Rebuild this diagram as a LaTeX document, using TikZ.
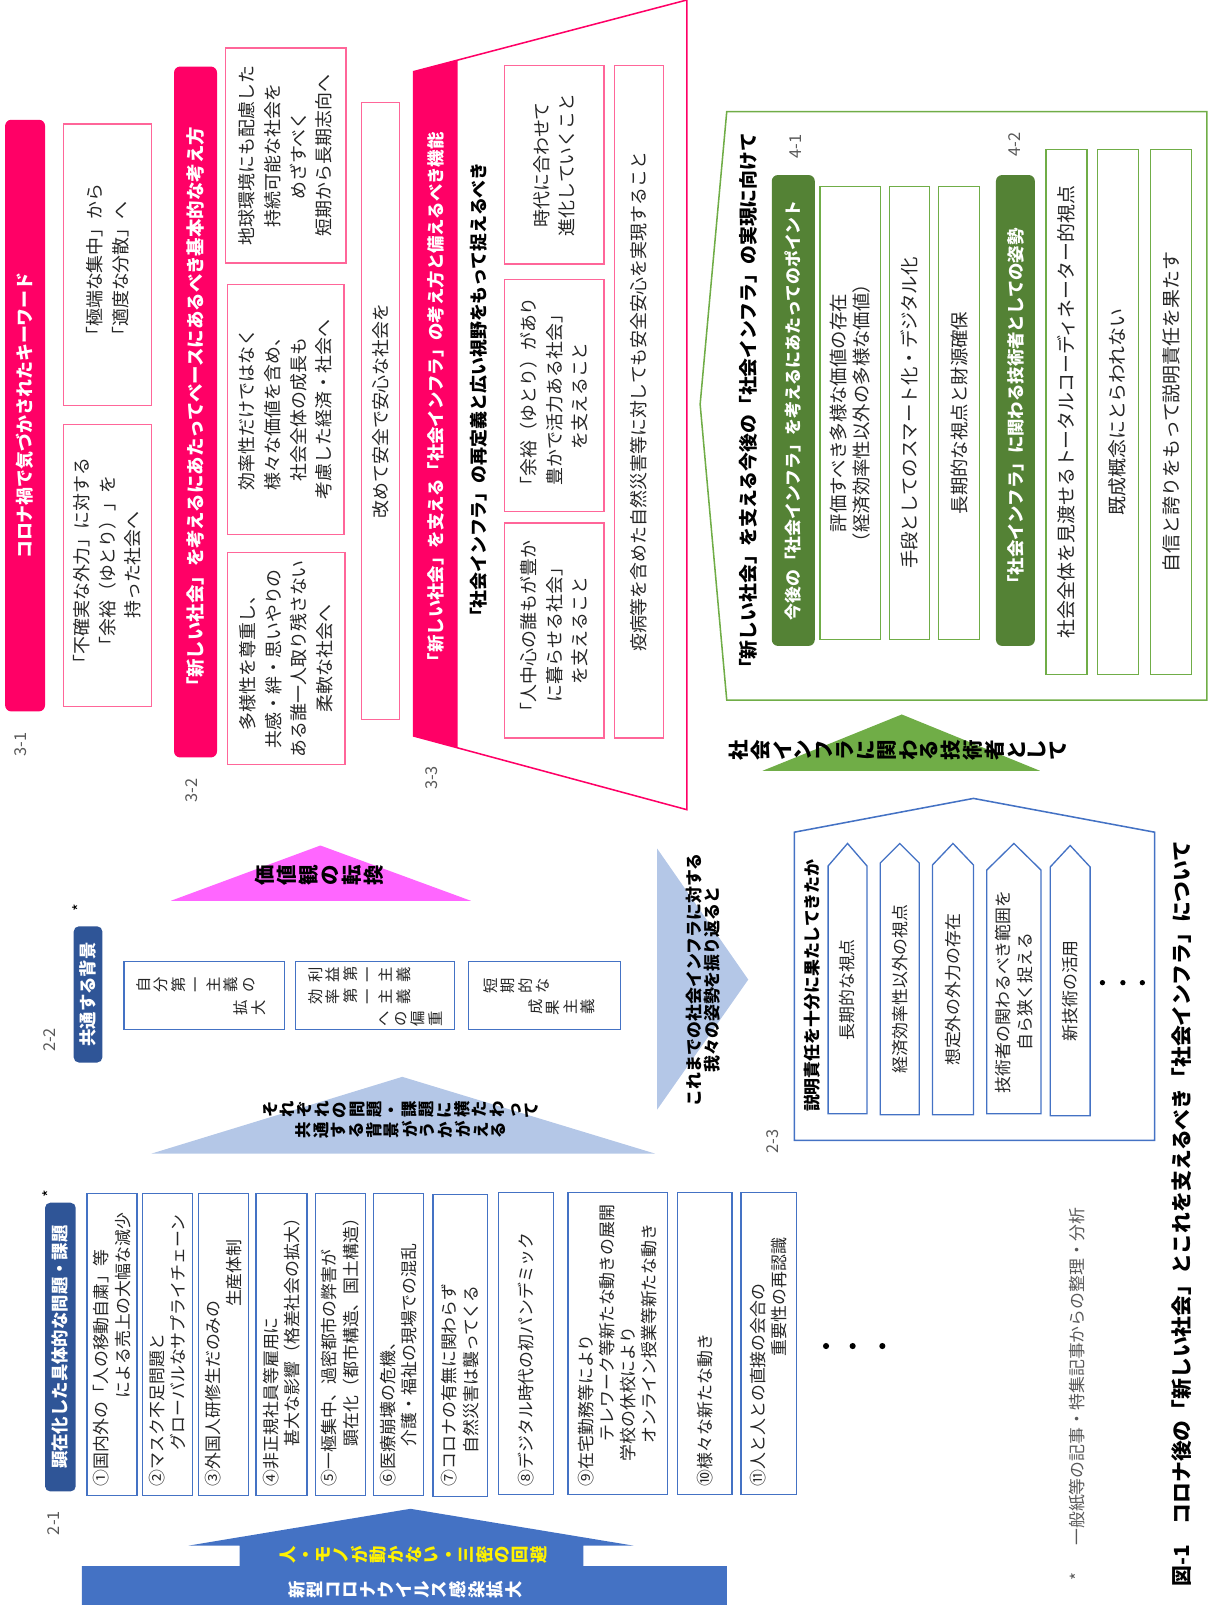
\documentclass[tikz,border=0pt]{standalone}
\usepackage{fontspec}
\usepackage{graphicx}
\setmainfont{Noto Sans CJK JP}
\definecolor{pinkc}{HTML}{FF0066}
\definecolor{pinkl}{HTML}{FF6699}
\definecolor{greenc}{HTML}{548235}
\definecolor{greenl}{HTML}{70AD47}
\definecolor{navy}{HTML}{2F5597}
\definecolor{bluel}{HTML}{4472C4}
\definecolor{lightblue}{HTML}{B4C7E7}
\definecolor{magentac}{HTML}{FF66FF}
\definecolor{txtc}{HTML}{262626}
\definecolor{lblc}{HTML}{595959}
\makeatletter
\def\tate@stop{\tate@stop}
\newcommand\tatetext[2][0pt]{\def\tate@k{#1}\tate@loop#2\tate@stop}
\def\tate@loop#1{\ifx\tate@stop#1\else\tate@one{#1}\expandafter\tate@loop\fi}
\def\tate@one#1{\rotatebox[origin=c]{90}{\makebox[1em]{\rule[-0.2em]{0pt}{1em}#1}}\kern\tate@k}
\makeatother
\tikzset{
  pinkbox/.style={draw=pinkl, line width=1.3pt},
  greenbox/.style={draw=greenl, line width=1.3pt},
  bluebox/.style={draw=bluel, line width=1.3pt},
  rt/.style={rotate=90, inner sep=0pt, align=center, text=txtc, font=\fontsize{17.5}{25}\selectfont},
  rtb/.style={rotate=90, inner sep=0pt, align=center, text=white, font=\bfseries\fontsize{17.5}{20}\selectfont},
  rth/.style={rotate=90, inner sep=0pt, align=center, text=black, font=\bfseries\fontsize{17.5}{20}\selectfont},
  it/.style={rotate=90, inner sep=0pt, align=left, anchor=west, text=txtc, font=\fontsize{16.5}{21}\selectfont},
  lbl/.style={rotate=90, inner sep=0pt, text=lblc, font=\fontsize{16}{18}\selectfont},
  tt/.style={inner sep=0pt, align=center, text=black},
  pillar/.style={rotate=90, inner sep=0pt, align=center, text=txtc, font=\fontsize{16.5}{21}\selectfont}
}
\begin{document}
\begin{tikzpicture}[x=1pt,y=-1pt]
\useasboundingbox (0,0) rectangle (1183,1568);

% ===== 3-1 =====
\fill[pinkc, rounded corners=6pt] (5,117) rectangle (44,695);
\node[rtb] (h31) at (24.5,406) {コロナ禍で気づかされたキーワード};
\draw[pinkbox] (62,121) rectangle (148,396);
\node[rt, align=left] (k1) at (105,258) {「極端な集中」から\\「適度な分散」へ};
\draw[pinkbox] (62,415) rectangle (148,690);
\node[rt] (k2) at (105,552) {「不確実な外力」に対する\\「余裕（ゆとり）」を\\持った社会へ};
\node[lbl] (l31) at (20,727) {3-1};

% ===== 3-2 =====
\fill[pinkc, rounded corners=6pt] (170,65) rectangle (212,740);
\node[rtb, font=\bfseries\fontsize{18}{20}\selectfont] (h32) at (191,402) {「新しい社会」を考えるにあたってベースにあるべき基本的な考え方};
\draw[pinkbox] (220,47) rectangle (338,257);
\node[rt] (b321) at (279,152) {地球環境にも配慮した\\持続可能な社会を\\めざすべく\\短期から長期志向へ};
\draw[pinkbox] (222,278) rectangle (336,522);
\node[rt] (b322) at (279,400) {効率性だけではなく\\様々な価値を含め、\\社会全体の成長も\\考慮した経済・社会へ};
\draw[pinkbox] (222,540) rectangle (337,747);
\node[rt] (b323) at (279.5,643.5) {多様性を尊重し、\\共感・絆・思いやりの\\ある誰一人取り残さない\\柔軟な社会へ};
\draw[pinkbox] (353,100) rectangle (390,703);
\node[rt] (b324) at (371.5,401.5) {改めて安全で安心な社会を};
\node[lbl] (l32) at (187,772) {3-2};

% ===== 3-3 =====
\draw[pinkc, line width=1.5pt] (404,70) -- (671,0) -- (671,791) -- (404,719) -- cycle;
\fill[pinkc] (404,70) -- (447,58.7) -- (447,730.6) -- (404,719) -- cycle;
\node[rtb, font=\bfseries\fontsize{17}{20}\selectfont] (h33) at (425.5,392) {「新しい社会」を支える「社会インフラ」の考え方と備えるべき機能};
\node[rth] (s33) at (468,385) {「社会インフラ」の再定義と広い視野をもって捉えるべき};
\draw[pinkbox] (493,64) rectangle (590,258);
\node[rt] (c1) at (541.5,161) {時代に合わせて\\進化していくこと};
\draw[pinkbox] (493,273) rectangle (590,500);
\node[rt] (c2) at (541.5,386.5) {「余裕（ゆとり）があり\\豊かで活力ある社会」\\を支えること};
\draw[pinkbox] (493,511) rectangle (590,721);
\node[rt] (c3) at (541.5,616) {「人中心の誰もが豊か\\に暮らせる社会」\\を支えること};
\draw[pinkbox] (600,64) rectangle (648,721);
\node[rt] (c4) at (624,392.5) {疫病等を含めた自然災害等に対しても安全安心を実現すること};
\node[lbl] (l33) at (422,760) {3-3};

% ===== 4 =====
\draw[greenl, line width=1.5pt] (710,109) -- (1179,109) -- (1179,684) -- (710,684) -- (684,395) -- cycle;
\node[rth, font=\bfseries\fontsize{18.4}{20}\selectfont] (t4) at (731,396) {「新しい社会」を支える今後の「社会インフラ」の実現に向けて};
\node[lbl] (l41) at (777,143) {4-1};
\fill[greenc, rounded corners=6pt] (754,171) rectangle (796,631);
\node[rtb, font=\bfseries\fontsize{16.5}{20}\selectfont] (g1) at (775,401) {今後の「社会インフラ」を考えるにあたってのポイント};
\draw[greenbox] (801,182) rectangle (860,625);
\node[rt, font=\fontsize{18}{23}\selectfont] (g11) at (830.5,403.5) {評価すべき多様な価値の存在\\（経済効率性以外の多様な価値）};
\draw[greenbox] (869,182) rectangle (908,625);
\node[rt, font=\fontsize{18}{23}\selectfont] (g12) at (888.5,403.5) {手段としてのスマート化・デジタル化};
\draw[greenbox] (917,182) rectangle (957,625);
\node[rt, font=\fontsize{18}{23}\selectfont] (g13) at (937,403.5) {長期的な視点と財源確保};
\node[lbl] (l42) at (991,141) {4-2};
\fill[greenc, rounded corners=6pt] (973,171) rectangle (1011,631);
\node[rtb, font=\bfseries\fontsize{17}{20}\selectfont] (g2) at (992,401) {「社会インフラ」に関わる技術者としての姿勢};
\draw[greenbox] (1022,146) rectangle (1062,659);
\node[rt, font=\fontsize{18.5}{23}\selectfont] (g21) at (1042,402.5) {社会全体を見渡せるトータルコーディネーター的視点};
\draw[greenbox] (1072,146) rectangle (1112,659);
\node[rt, font=\fontsize{18.5}{23}\selectfont] (g22) at (1092,402.5) {既成概念にとらわれない};
\draw[greenbox] (1124,146) rectangle (1164,659);
\node[rt, font=\fontsize{18.5}{23}\selectfont] (g23) at (1144,402.5) {自信と誇りをもって説明責任を果たす};

% green triangle
\fill[greenl] (881,698) -- (1016,753) -- (745,753) -- cycle;
\node[tt, font=\bfseries\fontsize{20}{22}\selectfont] (gt) at (879,733) {\tatetext[0.4pt]{社会インフラに関わる技術者として}};

% magenta triangle
\fill[magentac] (313,826) -- (460,880) -- (167,880) -- cycle;
\node[tt, font=\bfseries\fontsize{20}{22}\selectfont] (mt) at (313,855) {\tatetext[0.5pt]{価値観の転換}};

% light blue triangle
\fill[lightblue] (393,1052) -- (640,1127) -- (148,1127) -- cycle;
\node[tt, font=\bfseries\fontsize{16}{20}\selectfont] (lt) at (393,1094) {\tatetext[0.8pt]{それぞれの問題・課題に横たわって}\\\tatetext[0.8pt]{共通する背景がうかがえる}};

% right arrow
\fill[lightblue] (642,829) -- (731,957) -- (642,1084) -- cycle;
\node[rth, font=\bfseries\fontsize{16.5}{17.5}\selectfont] (ra) at (686.5,957) {これまでの社会インフラに対する\\我々の姿勢を振り返ると};

% ===== 2-2 =====
\node[lbl] (l22) at (48,1016) {2-2};
\node[lbl, text=black] (ast2) at (77,887) {*};
\fill[navy, rounded corners=5pt] (72,905) rectangle (100,1038);
\node[rtb, font=\bfseries\fontsize{17}{20}\selectfont] (n22) at (86,971.5) {共通する背景};
\draw[bluebox] (121,939) rectangle (278,1006);
\node[tt, align=left, anchor=west, text=txtc, font=\fontsize{15}{23}\selectfont] (bg1) at (133,973.5) {\tatetext[1.7pt]{自分第一主義の}\\\hspace*{95pt}\tatetext[1.7pt]{拡大}};
\draw[bluebox] (289,939) rectangle (444,1006);
\node[tt, align=left, anchor=west, text=txtc, font=\fontsize{15}{21.5}\selectfont] (bg2) at (301,973.5) {\tatetext[1.7pt]{利益第一主義}\\\tatetext[1.7pt]{効率第一主義}\\\hspace*{67pt}\tatetext[1.7pt]{への偏重}};
\draw[bluebox] (458,939) rectangle (606,1006);
\node[tt, align=left, anchor=west, text=txtc, font=\fontsize{15}{21}\selectfont] (bg3) at (472,973.5) {\tatetext[1.7pt]{短期的な}\\\hspace*{44pt}\tatetext[1.7pt]{成果主義}};

% ===== 2-1 =====
\node[lbl] (l21) at (52,1488) {2-1};
\node[lbl, text=black] (ast1) at (48,1166) {*};
\fill[navy, rounded corners=5pt] (44,1175) rectangle (74,1457);
\node[rtb, font=\bfseries\fontsize{17}{20}\selectfont] (n21) at (59,1316) {顕在化した具体的な問題・課題};

\draw[bluebox] (85,1166) rectangle (134,1461);
\node[it] (i1) at (109.5,1452) {①国内外の「人の移動自粛」等\\\hspace*{86pt}による売上の大幅な減少};
\draw[bluebox] (139,1166) rectangle (188,1461);
\node[it] (i2) at (163.5,1452) {②マスク不足問題と\\\hspace*{35pt}グローバルなサプライチェーン};
\draw[bluebox] (194,1166) rectangle (243,1461);
\node[it] (i3) at (218.5,1452) {③外国人研修生だのみの\\\hspace*{175pt}生産体制};
\draw[bluebox] (250,1166) rectangle (300,1461);
\node[it] (i4) at (275,1452) {④非正規社員等雇用に\\\hspace*{39pt}甚大な影響（格差社会の拡大）};
\draw[bluebox] (308,1166) rectangle (357,1461);
\node[it] (i5) at (332.5,1452) {⑤一極集中、過密都市の弊害が\\\hspace*{39pt}顕在化（都市構造、国土構造）};
\draw[bluebox] (365,1166) rectangle (414,1461);
\node[it] (i6) at (389.5,1452) {⑥医療崩壊の危機、\\\hspace*{39pt}介護・福祉の現場での混乱};
\draw[bluebox] (423,1167) rectangle (476,1462);
\node[it] (i7) at (449.5,1452) {⑦コロナの有無に関わらず\\\hspace*{32pt}自然災害は襲ってくる};
\draw[bluebox] (487,1165) rectangle (541,1460);
\node[it] (i8) at (514,1452) {⑧デジタル時代の初パンデミック};
\draw[bluebox] (555,1165) rectangle (652,1460);
\node[it, font=\fontsize{16.5}{20.7}\selectfont] (i9) at (603.5,1452) {⑨在宅勤務等により\\\hspace*{44pt}テレワーク等新たな動きの展開\\\hspace*{24pt}学校の休校により\\\hspace*{42pt}オンライン授業等新たな動き};
\draw[bluebox] (662,1165) rectangle (715,1460);
\node[it] (i10) at (688.5,1452) {⑩様々な新たな動き};
\draw[bluebox] (724,1165) rectangle (778,1460);
\node[it] (i11) at (751,1452) {⑪人と人との直接の会合の\\\hspace*{127pt}重要性の再認識};
\fill (807,1315) circle (3);
\fill (833,1315) circle (3);
\fill (862,1315) circle (3);

% bottom blue arrow
\fill[bluel] (80,1568) -- (80,1530) -- (234,1530) -- (234,1510) -- (184,1510) -- (401,1474) -- (619,1510) -- (570,1510) -- (570,1530) -- (710,1530) -- (710,1568) -- cycle;
\node[tt, text=yellow, font=\bfseries\fontsize{17}{20}\selectfont] (ya) at (405,1519) {\tatetext[0.1pt]{人・モノが動かない・三密の回避}};
\node[tt, text=white, font=\bfseries\fontsize{17}{20}\selectfont] (wa) at (397,1553) {\tatetext[0.2pt]{新型コロナウイルス感染拡大}};

% ===== 2-3 =====
\draw[bluel, line width=1.5pt] (776,1114) -- (776,813) -- (951,780) -- (1128,813) -- (1128,1114) -- cycle;
\node[rth, font=\bfseries\fontsize{16.5}{20}\selectfont] (h23) at (793,963) {説明責任を十分に果たしてきたか};
\draw[bluebox] (809,1088) -- (809,846) -- (828,824) -- (847,846) -- (847,1088) -- cycle;
\node[pillar] (p1) at (828,967) {長期的な視点};
\draw[bluebox] (860,1089) -- (860,843) -- (879,824) -- (898,843) -- (898,1089) -- cycle;
\node[pillar] (p2) at (879,966) {経済効率性以外の視点};
\draw[bluebox] (911,1089) -- (911,845) -- (931,824) -- (951,845) -- (951,1089) -- cycle;
\node[pillar] (p3) at (931,967) {想定外の外力の存在};
\draw[bluebox] (964,1088) -- (964,850) -- (990.5,824) -- (1017,850) -- (1017,1088) -- cycle;
\node[pillar] (p4) at (990.5,969) {技術者の関わるべき範囲を\\自ら狭く捉える};
\draw[bluebox] (1026,1090) -- (1026,847) -- (1045.5,826) -- (1065,847) -- (1065,1090) -- cycle;
\node[pillar] (p5) at (1045.5,968) {新技術の活用};
\fill (1077,960) circle (2.6);
\fill (1097,960) circle (2.6);
\fill (1116,960) circle (2.6);
\node[lbl] (l23) at (755,1115) {2-3};

% footnote and title
\node[lbl, anchor=west, font=\fontsize{16.5}{18}\selectfont] (fn) at (1052,1544) {*\hspace*{26pt}一般紙等の記事・特集記事からの整理・分析};
\node[rth, anchor=west, font=\bfseries\fontsize{20.3}{22}\selectfont] (title) at (1154,1550) {図-1\quad コロナ後の「新しい社会」とこれを支えるべき「社会インフラ」について};
\end{tikzpicture}
\end{document}
